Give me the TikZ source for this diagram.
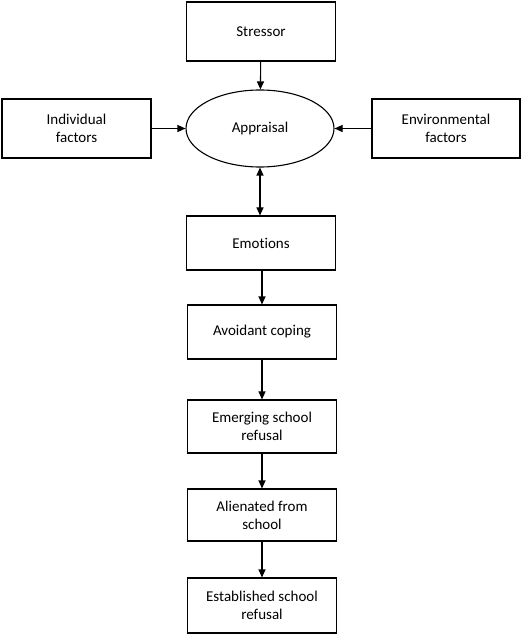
\documentclass[tikz,border=0pt]{standalone}
\usepackage{fontspec}
\setmainfont[Ligatures={NoCommon,NoRare}]{Carlito}
\usetikzlibrary{shapes.geometric,arrows.meta}
\begin{document}
\begin{tikzpicture}[x=1pt,y=-1pt,
    stage/.style ={rectangle, draw, line width=1.1pt, minimum width=149pt, minimum height=56pt, align=center, font=\fontsize{15}{18}\selectfont},
    core/.style ={ellipse, draw, line width=1.1pt, minimum width=148pt, minimum height=77pt, inner sep=0pt, font=\fontsize{15}{18}\selectfont},
    link/.style ={line width=1.1pt, -{Triangle[length=8pt,width=7pt]}}]
   \useasboundingbox (0,0) rectangle (526,636);
   \node[stage, minimum height=59pt] (stressor) at (261,31.5) {Stressor};
   \node[core] (appraisal) at (260,128.5) {Appraisal};
   \node[stage, minimum height=59pt] (indiv) at (76.5,128.5) {Individual\\factors};
   \node[stage, minimum height=59pt, minimum width=148pt] (environ) at (446,128.5) {Environmental\\factors};
   \node[stage, minimum height=54pt] (emotions) at (261,243) {Emotions};
   \node[stage, minimum height=54pt] (coping) at (262,332) {Avoidant coping};
   \node[stage, minimum height=53pt] (emerging) at (262,426.5) {Emerging school\\refusal};
   \node[stage, minimum height=52pt] (alienated) at (262,515) {Alienated from\\school};
   \node[stage, minimum height=55pt] (established) at (262,605.5) {Established school\\refusal};
   \draw[link] (stressor) to (appraisal);
   \draw[link] (indiv) to (appraisal);
   \draw[link] (environ) to (appraisal);
   \draw[link, {Triangle[length=8pt,width=7pt]}-{Triangle[length=8pt,width=7pt]}] (appraisal.south) to (appraisal.south |- emotions.north);
   \draw[link] (emotions.south -| coping.north) to (coping);
   \draw[link] (coping) to (emerging);
   \draw[link] (emerging) to (alienated);
   \draw[link] (alienated) to (established);
\end{tikzpicture}
\end{document}
